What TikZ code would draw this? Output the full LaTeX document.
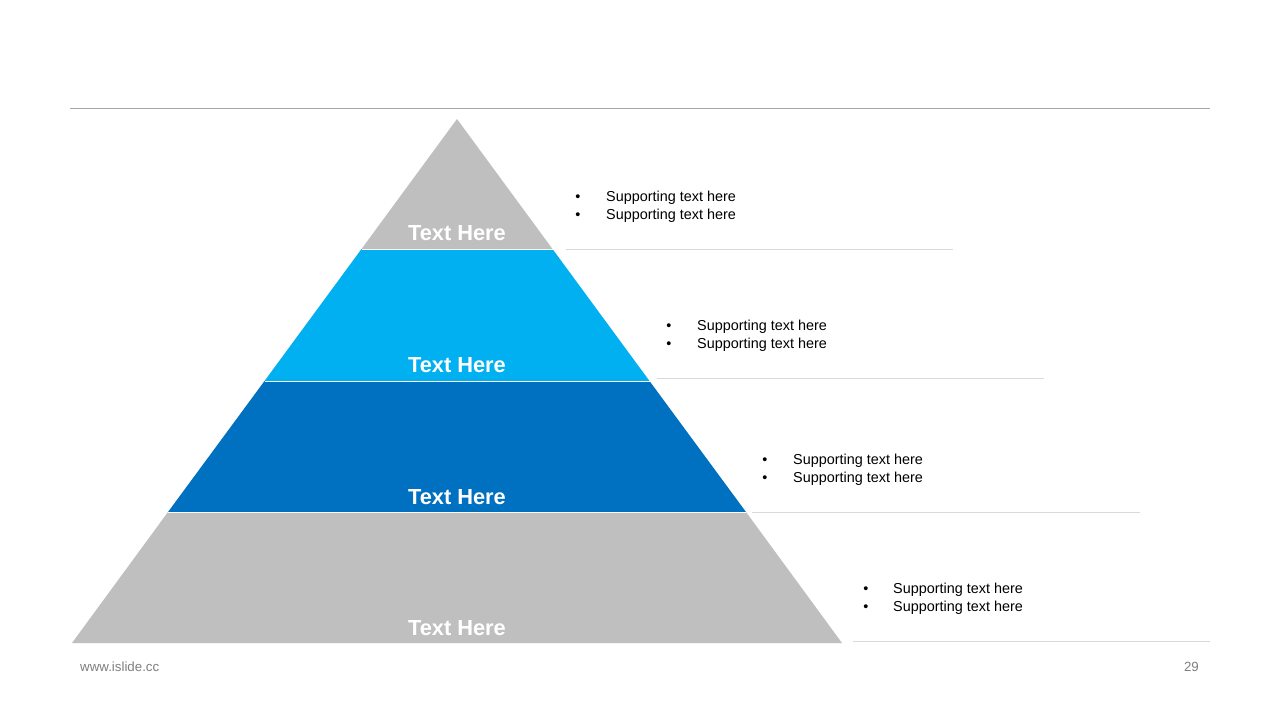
\documentclass[tikz,border=0pt]{standalone}
\usepackage{fontspec}
\setmainfont{Liberation Sans}
\definecolor{pgrey}{HTML}{BFBFBF}
\definecolor{plblue}{HTML}{00B0F0}
\definecolor{pblue}{HTML}{0070C0}
\definecolor{rulegrey}{HTML}{A6A6A6}
\definecolor{sepgrey}{HTML}{D9D9D9}
\definecolor{footgrey}{HTML}{7F7F7F}
\begin{document}
\begin{tikzpicture}[x=1pt,y=-1pt,
  band/.style={draw=white,line width=1pt},
  lvl/.style={text=white,font=\fontsize{21.8}{24}\selectfont\bfseries,anchor=center,inner sep=0pt},
  sup/.style={font=\fontsize{14.4}{16}\selectfont,anchor=west,inner sep=0pt,text=black},
  bul/.style={font=\fontsize{14.4}{16}\selectfont,anchor=center,inner sep=0pt,text=black},
  sepline/.style={draw=sepgrey,line width=1pt},
  foot/.style={font=\fontsize{13.3}{15}\selectfont,text=footgrey,inner sep=0pt}]
\useasboundingbox (0,0) rectangle (1280,720);
\fill[white] (0,0) rectangle (1280,720);
% top rule
\coordinate (rl) at (70,108);
\coordinate (rr) at (1210,108);
\draw[rulegrey,line width=1pt] (rl) -- (rr);
% pyramid bands
\fill[pgrey] (457,119) -- (552.5,249) -- (361.5,249) -- cycle;
\fill[plblue] (361.5,249) -- (552.5,249) -- (649.5,381) -- (264.5,381) -- cycle;
\fill[pblue] (264.5,381) -- (649.5,381) -- (746,512) -- (168,512) -- cycle;
\fill[pgrey] (168,512) -- (746,512) -- (842,643) -- (72,643) -- cycle;
\draw[white,line width=1pt] (361.5,249) -- (552.5,249);
\draw[white,line width=1pt] (264.5,381) -- (649.5,381);
\draw[white,line width=1pt] (168,512) -- (746,512);
% level labels
\node[lvl] (t1) at (457,233.5) {Text Here};
\node[lvl] (t2) at (457,365.5) {Text Here};
\node[lvl] (t3) at (457,497.5) {Text Here};
\node[lvl] (t4) at (457,628.5) {Text Here};
% separator lines
\coordinate (s1a) at (566,249); \coordinate (s1b) at (953,249);
\coordinate (s2a) at (657,378); \coordinate (s2b) at (1044,378);
\coordinate (s3a) at (752,512); \coordinate (s3b) at (1140,512);
\coordinate (s4a) at (853,641); \coordinate (s4b) at (1210,641);
\draw[sepline] (s1a) -- (s1b);
\draw[sepline] (s2a) -- (s2b);
\draw[sepline] (s3a) -- (s3b);
\draw[sepline] (s4a) -- (s4b);
% supporting text
\node[bul] (b1a) at (578,198) {•}; \node[sup] (p1a) at (606,198) {Supporting text here};
\node[bul] (b1b) at (578,216) {•}; \node[sup] (p1b) at (606,216) {Supporting text here};
\node[bul] (b2a) at (669,327) {•}; \node[sup] (p2a) at (697,327) {Supporting text here};
\node[bul] (b2b) at (669,345) {•}; \node[sup] (p2b) at (697,345) {Supporting text here};
\node[bul] (b3a) at (765,461) {•}; \node[sup] (p3a) at (793,461) {Supporting text here};
\node[bul] (b3b) at (765,479) {•}; \node[sup] (p3b) at (793,479) {Supporting text here};
\node[bul] (b4a) at (866,590) {•}; \node[sup] (p4a) at (893,590) {Supporting text here};
\node[bul] (b4b) at (866,608) {•}; \node[sup] (p4b) at (893,608) {Supporting text here};
% footer
\node[foot,anchor=west] (url) at (80,667) {www.islide.cc};
\node[foot,anchor=east] (pg) at (1199,667) {29};
\end{tikzpicture}
\end{document}
